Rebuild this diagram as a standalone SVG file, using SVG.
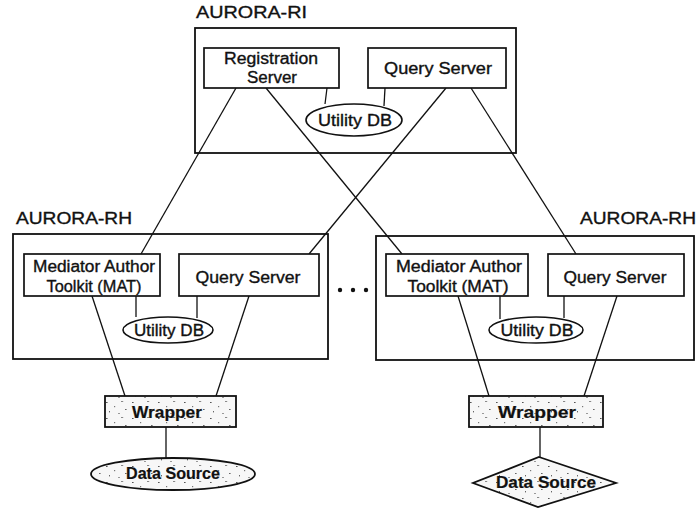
<svg xmlns="http://www.w3.org/2000/svg" width="697" height="513" viewBox="0 0 697 513">
  <style>
    .box { fill: #ffffff; stroke: #111111; stroke-width: 1.7; }
    .frame { fill: none; stroke: #111111; stroke-width: 1.8; }
    .db { fill: #ffffff; stroke: #111111; stroke-width: 1.6; }
    .grain { fill: url(#speckle); stroke: #111111; stroke-width: 1.8; }
    .link { stroke: #111111; stroke-width: 1.3; fill: none; }
    text { font-family: "Liberation Sans", Arial, Helvetica, sans-serif; fill: #111111; stroke: #111111; stroke-width: 0.35; }
    .lbl { font-size: 17px; }
    .in { font-size: 16px; text-anchor: middle; }
    .bold { font-size: 17px; font-weight: bold; text-anchor: middle; stroke-width: 0.2; }
  </style>
  <defs>
    <!-- sparse stippled fill for the wrapper and data source shapes -->
    <pattern id="speckle" width="26" height="16" patternUnits="userSpaceOnUse">
      <rect width="26" height="16" fill="#f7f7f7"/>
      <rect x="2" y="2" width="1.6" height="1" fill="#555"/>
      <rect x="10" y="6" width="1.2" height="1.2" fill="#777"/>
      <rect x="17" y="1" width="2.2" height="1" fill="#888"/>
      <rect x="5" y="11" width="1" height="1.4" fill="#666"/>
      <rect x="21" y="9" width="1.6" height="1" fill="#666"/>
      <rect x="14" y="13" width="2" height="1" fill="#999"/>
    </pattern>
  </defs>

  <rect width="697" height="513" fill="#ffffff"/>

  <!-- connectors -->
  <g id="connectors">
    <!-- AURORA-RI to the two hosts -->
    <line class="link" x1="236" y1="88" x2="141" y2="254"/>
    <line class="link" x1="266" y1="88" x2="402" y2="254"/>
    <line class="link" x1="446" y1="88" x2="309" y2="254"/>
    <line class="link" x1="471" y1="88" x2="576" y2="254"/>
    <!-- RI internal -->
    <line class="link" x1="327" y1="88" x2="325" y2="104"/>
    <line class="link" x1="385" y1="88" x2="384" y2="106"/>
    <!-- left host internal -->
    <line class="link" x1="136" y1="296" x2="136" y2="317"/>
    <line class="link" x1="197" y1="296" x2="197" y2="318"/>
    <line class="link" x1="92" y1="296" x2="125" y2="396"/>
    <line class="link" x1="249" y1="296" x2="216" y2="396"/>
    <line class="link" x1="166" y1="427" x2="166" y2="458"/>
    <!-- right host internal -->
    <line class="link" x1="500" y1="296" x2="500" y2="319"/>
    <line class="link" x1="564" y1="296" x2="564" y2="318"/>
    <line class="link" x1="458" y1="296" x2="489" y2="396"/>
    <line class="link" x1="617" y1="296" x2="584" y2="396"/>
    <line class="link" x1="540" y1="427" x2="540" y2="457"/>
  </g>

  <!-- AURORA-RI -->
  <g id="aurora-ri">
    <text class="lbl" x="196" y="18" textLength="111" lengthAdjust="spacingAndGlyphs">AURORA-RI</text>
    <rect class="frame" x="195" y="28" width="321" height="125"/>
  </g>
  <g id="ri-registration">
    <rect class="box" x="204" y="48" width="135" height="40"/>
    <text class="in" x="271" y="64" textLength="94" lengthAdjust="spacingAndGlyphs">Registration</text>
    <text class="in" x="272" y="83" textLength="50" lengthAdjust="spacingAndGlyphs">Server</text>
  </g>
  <g id="ri-query">
    <rect class="box" x="368" y="48" width="138" height="40"/>
    <text class="in" x="438" y="74" textLength="108" lengthAdjust="spacingAndGlyphs">Query Server</text>
  </g>
  <g id="ri-utility">
    <ellipse class="db" cx="354" cy="120" rx="48" ry="16"/>
    <text class="in" x="355" y="126" textLength="74" lengthAdjust="spacingAndGlyphs">Utility DB</text>
  </g>

  <!-- left AURORA-RH -->
  <g id="rh-left">
    <text class="lbl" x="16" y="224" textLength="116" lengthAdjust="spacingAndGlyphs">AURORA-RH</text>
    <rect class="frame" x="13" y="234" width="315" height="125"/>
  </g>
  <g id="rh-left-mat">
    <rect class="box" x="24" y="254" width="136" height="42"/>
    <text class="in" x="94" y="272" textLength="122" lengthAdjust="spacingAndGlyphs">Mediator Author</text>
    <text class="in" x="94" y="292" textLength="95" lengthAdjust="spacingAndGlyphs">Toolkit (MAT)</text>
  </g>
  <g id="rh-left-query">
    <rect class="box" x="179" y="254" width="140" height="42"/>
    <text class="in" x="248" y="283" textLength="105" lengthAdjust="spacingAndGlyphs">Query Server</text>
  </g>
  <g id="rh-left-utility">
    <ellipse class="db" cx="168" cy="330" rx="45" ry="13"/>
    <text class="in" x="169" y="336" textLength="70" lengthAdjust="spacingAndGlyphs">Utility DB</text>
  </g>
  <g id="rh-left-wrapper">
    <rect class="grain" x="105" y="396" width="131" height="31"/>
    <text class="bold" x="167" y="418" textLength="70" lengthAdjust="spacingAndGlyphs">Wrapper</text>
  </g>
  <g id="rh-left-source">
    <ellipse class="grain" cx="173" cy="474" rx="82" ry="16"/>
    <text class="bold" x="173" y="479" style="font-size:16px" textLength="94" lengthAdjust="spacingAndGlyphs">Data Source</text>
  </g>

  <!-- ellipsis between the hosts -->
  <g id="more-hosts" fill="#111111">
    <circle cx="340" cy="290" r="2.2"/>
    <circle cx="353" cy="290" r="2.2"/>
    <circle cx="366" cy="290" r="2.2"/>
  </g>

  <!-- right AURORA-RH -->
  <g id="rh-right">
    <text class="lbl" x="580" y="224" textLength="116" lengthAdjust="spacingAndGlyphs">AURORA-RH</text>
    <rect class="frame" x="376" y="236" width="318" height="124"/>
  </g>
  <g id="rh-right-mat">
    <rect class="box" x="386" y="254" width="142" height="42"/>
    <text class="in" x="459" y="272" textLength="126" lengthAdjust="spacingAndGlyphs">Mediator Author</text>
    <text class="in" x="458" y="292" textLength="101" lengthAdjust="spacingAndGlyphs">Toolkit (MAT)</text>
  </g>
  <g id="rh-right-query">
    <rect class="box" x="548" y="254" width="136" height="42"/>
    <text class="in" x="615" y="283" textLength="103" lengthAdjust="spacingAndGlyphs">Query Server</text>
  </g>
  <g id="rh-right-utility">
    <ellipse class="db" cx="536" cy="330" rx="47" ry="13"/>
    <text class="in" x="537" y="336" textLength="73" lengthAdjust="spacingAndGlyphs">Utility DB</text>
  </g>
  <g id="rh-right-wrapper">
    <rect class="grain" x="469" y="396" width="134" height="31"/>
    <text class="bold" x="537" y="418" textLength="78" lengthAdjust="spacingAndGlyphs">Wrapper</text>
  </g>
  <g id="rh-right-source">
    <polygon class="grain" points="539,457 616,483 538,507 473,483"/>
    <text class="bold" x="546" y="488" style="font-size:16px" textLength="100" lengthAdjust="spacingAndGlyphs">Data Source</text>
  </g>
</svg>
